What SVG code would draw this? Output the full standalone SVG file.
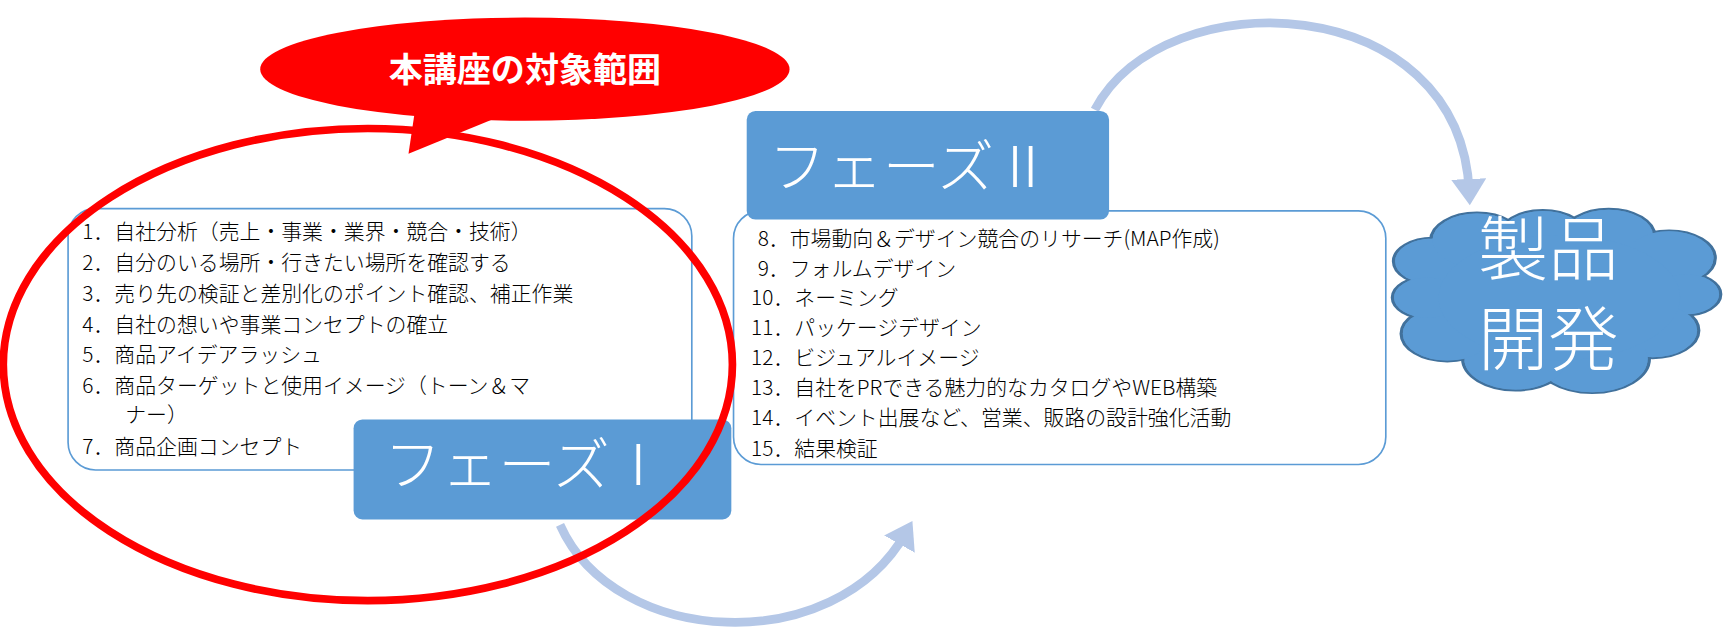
<svg xmlns="http://www.w3.org/2000/svg" width="1724" height="633" viewBox="0 0 1724 633">
<defs>
<style>
.t{font-family:"Noto Sans CJK JP","Noto Sans",sans-serif;font-size:19px;font-weight:300;fill:#000}
.w{font-family:"Noto Sans CJK JP","Noto Sans",sans-serif;fill:#fff}
.box{fill:#fff;stroke:#5b9bd5;stroke-width:1.5}
.ph{fill:#5b9bd5}
.arc{fill:none;stroke:#b4c7e7;stroke-width:8}
.cl{fill:#5b9bd5;stroke:#41719c;stroke-width:3}
</style>
<marker id="ah" markerWidth="4" markerHeight="4" refX="1.5" refY="2" orient="auto" markerUnits="strokeWidth"><path d="M0,0 L3,2 L0,4 z" fill="#b4c7e7"/></marker>
</defs>
<rect width="1724" height="633" fill="#fff"/>
<g transform="scale(1.0981)">
<g id="connectors">
<path class="arc" d="M997,100 C1060,-20 1330,-10 1338,175" marker-end="url(#ah)"/>
<path class="arc" d="M510,478 C560,590 760,600 825,485" marker-end="url(#ah)"/>
</g>
<g id="box1">
<rect class="box" x="62" y="190" width="568" height="238" rx="25"/>
<text class="t" x="75" y="218">1．自社分析（売上・事業・業界・競合・技術）</text>
<text class="t" x="75" y="246">2．自分のいる場所・行きたい場所を確認する</text>
<text class="t" x="75" y="274">3．売り先の検証と差別化のポイント確認、補正作業</text>
<text class="t" x="75" y="302">4．自社の想いや事業コンセプトの確立</text>
<text class="t" x="75" y="330">5．商品アイデアラッシュ</text>
<text class="t" x="75" y="358">6．商品ターゲットと使用イメージ（トーン＆マ</text>
<text class="t" x="114" y="384">ナー）</text>
<text class="t" x="75" y="413">7．商品企画コンセプト</text>
</g>
<g id="phase1">
<rect class="ph" x="322" y="382" width="344" height="91" rx="8"/>
<text class="w" x="350" y="442" font-size="52" font-weight="300">フェーズⅠ</text>
</g>
<g id="box2">
<rect class="box" x="668" y="192" width="594" height="231" rx="25"/>
<text class="t" x="690" y="224">8．市場動向＆デザイン競合のリサーチ(MAP作成)</text>
<text class="t" x="690" y="251">9．フォルムデザイン</text>
<text class="t" x="684" y="278">10．ネーミング</text>
<text class="t" x="684" y="305">11．パッケージデザイン</text>
<text class="t" x="684" y="332">12．ビジュアルイメージ</text>
<text class="t" x="684" y="360">13．自社をPRできる魅力的なカタログやWEB構築</text>
<text class="t" x="684" y="387">14．イベント出展など、営業、販路の設計強化活動</text>
<text class="t" x="684" y="415">15．結果検証</text>
</g>
<g id="phase2">
<rect class="ph" x="680" y="101" width="330" height="99" rx="8"/>
<text class="w" x="700" y="170" font-size="52" font-weight="300">フェーズⅡ</text>
</g>
<g id="cloud">
<g transform="translate(0,58) scale(1,0.6)">
<g class="cl">
<circle cx="1305" cy="300" r="36"/><circle cx="1345" cy="268" r="42"/><circle cx="1405" cy="262" r="40"/>
<circle cx="1465" cy="262" r="42"/><circle cx="1520" cy="295" r="42"/><circle cx="1535" cy="350" r="32"/>
<circle cx="1505" cy="405" r="42"/><circle cx="1450" cy="448" r="52"/><circle cx="1380" cy="448" r="48"/>
<circle cx="1318" cy="410" r="42"/><circle cx="1300" cy="355" r="32"/>
</g>
<g fill="#5b9bd5">
<circle cx="1305" cy="300" r="34.5"/><circle cx="1345" cy="268" r="40.5"/><circle cx="1405" cy="262" r="38.5"/>
<circle cx="1465" cy="262" r="40.5"/><circle cx="1520" cy="295" r="40.5"/><circle cx="1535" cy="350" r="30.5"/>
<circle cx="1505" cy="405" r="40.5"/><circle cx="1450" cy="448" r="50.5"/><circle cx="1380" cy="448" r="46.5"/>
<circle cx="1318" cy="410" r="40.5"/><circle cx="1300" cy="355" r="30.5"/>
<ellipse cx="1420" cy="355" rx="110" ry="95"/>
</g>
</g>
<text class="w" x="1410" y="250" font-size="64" font-weight="300" text-anchor="middle">製品</text>
<text class="w" x="1410" y="332" font-size="64" font-weight="300" text-anchor="middle">開発</text>
</g>
<g id="scope">
<ellipse cx="335" cy="332" rx="332" ry="215" fill="none" stroke="#ff0000" stroke-width="7"/>
<path d="M378,100 L372,140 L470,100 z" fill="#ff0000"/>
<ellipse cx="478" cy="63" rx="241" ry="47" fill="#ff0000"/>
<text class="w" x="478" y="75" font-size="31" font-weight="bold" text-anchor="middle">本講座の対象範囲</text>
</g>
</g>
</svg>
